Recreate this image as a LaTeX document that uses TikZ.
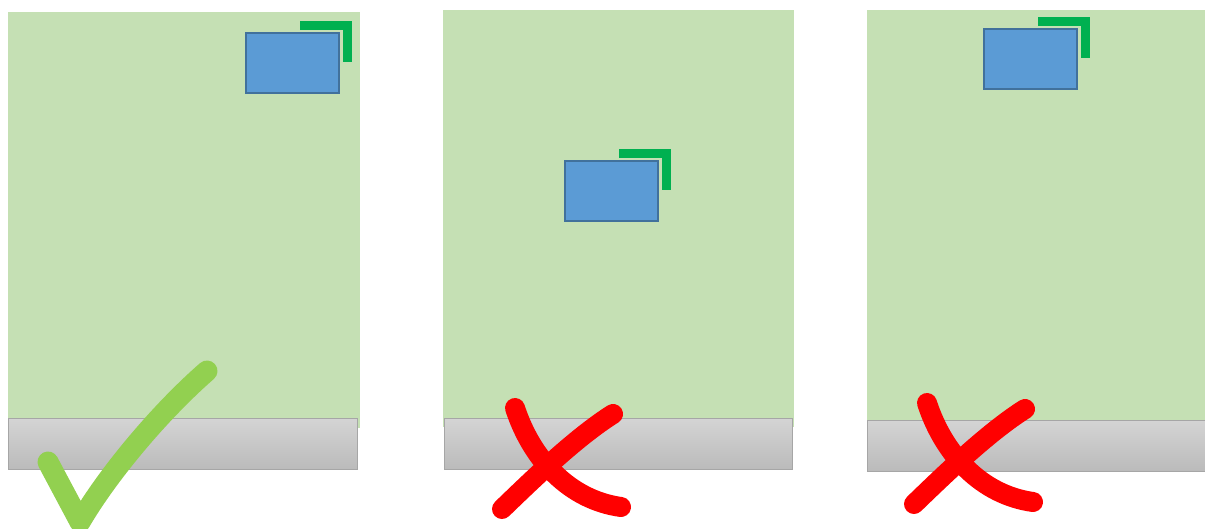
\documentclass[tikz,border=0pt]{standalone}

\definecolor{screengreen}{HTML}{C5E0B4}
\definecolor{bartop}{HTML}{D4D4D4}
\definecolor{barbottom}{HTML}{BBBBBB}
\definecolor{barline}{HTML}{A6A6A6}
\definecolor{winblue}{HTML}{5B9BD5}
\definecolor{winline}{HTML}{41719C}
\definecolor{cornergreen}{HTML}{00B050}
\definecolor{tickgreen}{HTML}{92D050}
\definecolor{crossred}{HTML}{FF0000}

\begin{document}
\begin{tikzpicture}[x=1pt, y=-1pt]
\tikzstyle{screen} = [fill=screengreen]
\tikzstyle{taskbar} = [draw=barline, line width=1pt, top color=bartop, bottom color=barbottom]
\tikzstyle{window} = [draw=winline, fill=winblue, line width=2pt]
\tikzstyle{corner} = [draw=cornergreen, line width=9pt]
\tikzstyle{tick} = [draw=tickgreen, line width=21pt, line cap=round, line join=round]
\tikzstyle{cross} = [draw=crossred, line width=20pt, line cap=round]

\useasboundingbox (0,0) rectangle (1205,529);

% Screens with their taskbars
\fill [screen] (8,12) rectangle (360,428);
\draw [taskbar] (8,418) rectangle (357,469);

\fill [screen] (443,10) rectangle (794,427);
\draw [taskbar] (444,418) rectangle (792,469);

\fill [screen] (867,10) rectangle (1205,420);
\draw [taskbar] (867,420) rectangle (1206,471);

% Windows with the corner mark
\foreach \wx/\wy in {246/33, 565/161, 984/29} {
  \draw [window] (\wx,\wy) rectangle ++(93,60);
  \draw [corner] (\wx+54,\wy-7) -| (\wx+101.5,\wy+29);
}

% Tick under the first screen
\draw [tick] (48,462) -- (80,522) .. controls (108,474) and (160,412) .. (207,371);

% Crosses under the other two
\foreach \dx/\dy in {0/0, 412/-5} {
  \draw [cross, shift={(\dx,\dy)}] (515,408) .. controls (532,460) and (570,500) .. (621,507);
  \draw [cross, shift={(\dx,\dy)}] (613,414) .. controls (575,438) and (530,482) .. (502,509);
}
\end{tikzpicture}
\end{document}
